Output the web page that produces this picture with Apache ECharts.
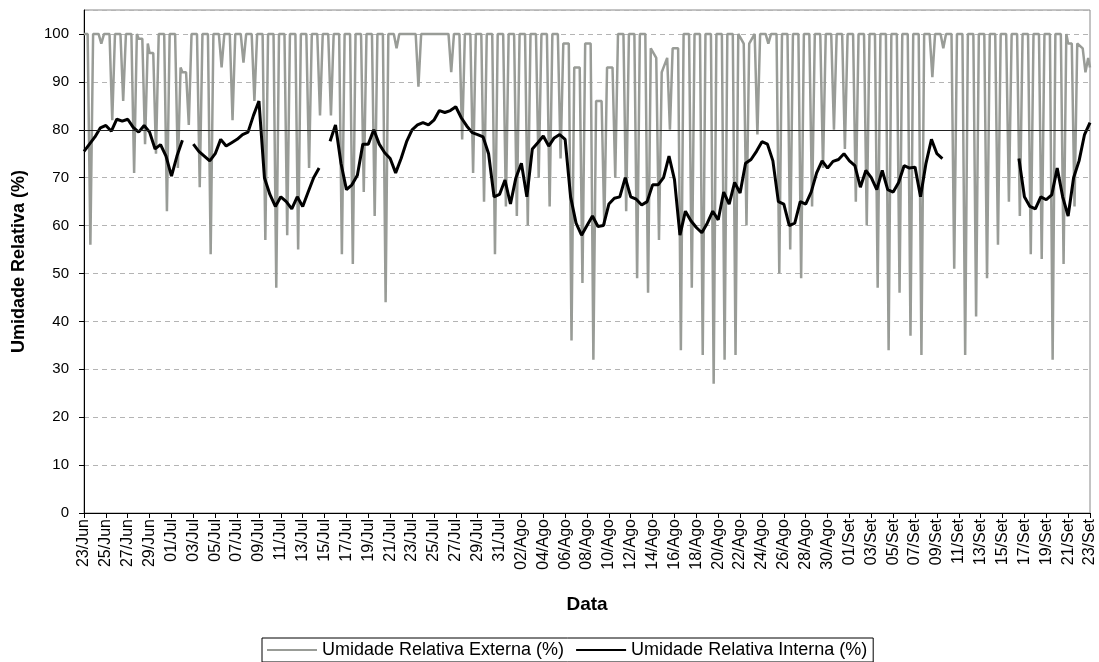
<!DOCTYPE html>
<html>
<head>
<meta charset="utf-8">
<script src="https://cdn.jsdelivr.net/npm/echarts@6/dist/echarts.min.js"></script>
<style>
  html, body { margin: 0; padding: 0; background: #ffffff; }
  #chart { width: 1099px; height: 662px; }
</style>
</head>
<body>
<div id="chart"></div>
<script>
// ---- tick labels (every 2 days, from 23/Jun to 23/Set) ----
const tickLabels = [
  '23/Jun','25/Jun','27/Jun','29/Jun','01/Jul','03/Jul','05/Jul','07/Jul','09/Jul','11/Jul',
  '13/Jul','15/Jul','17/Jul','19/Jul','21/Jul','23/Jul','25/Jul','27/Jul','29/Jul','31/Jul',
  '02/Ago','04/Ago','06/Ago','08/Ago','10/Ago','12/Ago','14/Ago','16/Ago','18/Ago','20/Ago',
  '22/Ago','24/Ago','26/Ago','28/Ago','30/Ago','01/Set','03/Set','05/Set','07/Set','09/Set',
  '11/Set','13/Set','15/Set','17/Set','19/Set','21/Set','23/Set'
];

// ---- external RH: per day, readings at the hours below (day 0 = 23/Jun) ----
const extHours = [0, 8, 14, 20];
const extDaily = [
  [100,100,56,100],[100,100,98,100],[100,100,82,100],[100,100,86,100],[100,100,71,100],
  [99,99,77,98],[96,96,75,100],[100,100,63,100],[100,100,72,93],[92,92,81,100],
  [100,100,68,100],[100,100,54,100],[100,100,93,100],[100,100,82,100],[100,100,94,100],
  [100,100,86,100],[100,100,57,100],[100,100,47,100],[100,100,58,100],[100,100,55,100],
  [100,100,72,100],[100,100,83,100],[100,100,83,100],[100,100,54,100],[100,100,52,100],
  [100,100,67,100],[100,100,62,100],[100,100,44,100],[100,100,97,100],[100,100,100,100],
  [100,100,89,100],[100,100,100,100],[100,100,100,100],[100,100,92,100],[100,100,78,100],
  [100,100,71,100],[100,100,65,100],[100,100,54,100],[100,100,64,100],[100,100,62,100],
  [100,100,60,100],[100,100,70,100],[100,100,64,100],[100,100,74,98],[98,98,36,93],
  [93,93,48,98],[98,98,32,86],[86,86,60,93],[93,93,70,100],[100,100,63,100],
  [100,100,49,100],[100,100,46,97],[97,95,57,92],[92,95,80,97],[97,97,34,100],
  [100,100,47,100],[100,100,33,100],[100,100,27,100],[100,100,32,100],[100,100,33,100],
  [100,98,60,98],[98,100,79,100],[100,100,98,100],[100,100,50,100],[100,100,55,100],
  [100,100,49,100],[100,100,64,100],[100,100,72,100],[100,100,80,100],[100,100,76,100],
  [100,100,65,100],[100,100,60,100],[100,100,47,100],[100,100,34,100],[100,100,46,100],
  [100,100,37,100],[100,100,33,100],[100,100,91,100],[100,100,97,100],[100,100,51,100],
  [100,100,33,100],[100,100,41,100],[100,100,49,100],[100,100,56,100],[100,100,65,100],
  [100,100,62,100],[100,100,54,100],[100,100,53,100],[100,100,32,100],[100,100,52,100],
  [98,98,64,98],[98,97,92,95]
];
const extLast = 93; // 23/Set 00h

// ---- internal RH: readings every 12 h from 23/Jun 00h (null = no data) ----
const intHalfDay = [
  75.5,77,78.5,80.4,80.9,79.7,82.2,81.8,82.2,80.5,
  79.5,80.9,79.5,76,76.9,74.5,70.3,74.5,77.8,null,
  77,75.5,74.5,73.5,75,78,76.6,77.3,78,79,
  79.5,83,86,70,66.5,64,66,65,63.5,66,
  64,67,70,72,null,77.6,81,73,67.5,68.5,
  70.5,77,77,80,77,75.2,74,71,74,77.5,
  80,81,81.5,81,82,84,83.6,84,84.8,82.5,
  80.8,79.4,79,78.5,75,66,66.5,69.5,64.5,70,
  73,66,76,77.3,78.7,76.6,78.3,79,78,66,
  60.5,58,60,62,59.8,60,64.5,65.7,66,70,
  66,65.5,64.3,65,68.5,68.5,70,74.5,69.6,58,
  63,61,59.6,58.5,60.5,63,61.2,67,64.5,69,
  66.8,73,73.8,75.5,77.5,77,73.5,65,64.5,60,
  60.5,65,64.5,67,71,73.5,72,73.4,73.8,75,
  73.5,72.5,68,71.5,70,67.5,71.5,67.5,67,69,
  72.5,72,72.2,66,73,78,75,74,null,null,
  null,null,null,null,null,null,null,null,null,null,
  null,74,66,64,63.5,66,65.4,66.4,72,66,
  62,70,73.5,79,81.5
];

const refLevel = 80;

const extData = [];
extDaily.forEach((row, d) => {
  row.forEach((v, k) => extData.push([d + extHours[k] / 24, v]));
});
extData.push([extDaily.length, extLast]);

const intData = intHalfDay.map((v, i) => [i / 2, v]);

const FONT = 'Liberation Sans';
const GRAY = '#999c97';
const chart = echarts.init(document.getElementById('chart'), null, { renderer: 'canvas' });
chart.setOption({
  animation: false,
  backgroundColor: '#ffffff',
  textStyle: { fontFamily: FONT },
  grid: {
    left: 84, right: 9, top: 10, bottom: 149,
    show: true, borderColor: '#888888', borderWidth: 1, backgroundColor: 'transparent'
  },
  legend: {
    bottom: 0,
    left: 262,
    icon: 'rect',
    itemWidth: 50,
    itemHeight: 2,
    itemGap: 12,
    padding: [3, 6, 3, 5],
    borderColor: '#000000',
    borderWidth: 1,
    borderRadius: 0,
    textStyle: { fontFamily: FONT, fontSize: 18, color: '#000000', padding: [0, 0, 0, 0] },
    data: ['Umidade Relativa Externa (%)', 'Umidade Relativa Interna (%)']
  },
  xAxis: {
    type: 'value',
    min: 0, max: 92, interval: 2,
    name: 'Data',
    nameLocation: 'middle',
    nameGap: 82,
    nameTextStyle: { fontFamily: FONT, fontSize: 19, fontWeight: 'bold', color: '#000000' },
    axisLine: { show: true, onZero: false, lineStyle: { color: '#000000', width: 1 } },
    axisTick: { show: true, length: 5, lineStyle: { color: '#000000' } },
    axisLabel: {
      rotate: 90, margin: 6, fontSize: 16, color: '#000000', fontFamily: FONT,
      formatter: (v) => tickLabels[Math.round(v / 2)] || ''
    },
    splitLine: { show: false }
  },
  yAxis: {
    type: 'value',
    min: 0, max: 105, interval: 10,
    name: 'Umidade Relativa (%)',
    nameLocation: 'middle',
    nameGap: 56,
    nameRotate: 90,
    nameTextStyle: { fontFamily: FONT, fontSize: 18, fontWeight: 'bold', color: '#000000' },
    axisLine: { show: true, lineStyle: { color: '#000000', width: 1 } },
    axisTick: { show: true, length: 5, lineStyle: { color: '#000000' } },
    axisLabel: {
      margin: 15, fontSize: 15, color: '#000000', fontFamily: FONT,
      showMaxLabel: false,
      formatter: (v) => (v <= 100 ? String(v) : '')
    },
    splitLine: { show: true, lineStyle: { color: '#b4b4b4', type: [5, 4], width: 1 } }
  },
  series: [
    {
      name: 'Umidade Relativa Externa (%)',
      type: 'line',
      data: extData,
      symbol: 'none',
      lineStyle: { color: GRAY, width: 2.5 },
      itemStyle: { color: GRAY },
      z: 2
    },
    {
      name: 'Umidade Relativa Interna (%)',
      type: 'line',
      data: intData,
      symbol: 'none',
      connectNulls: false,
      lineStyle: { color: '#000000', width: 3 },
      itemStyle: { color: '#000000' },
      z: 3,
      markLine: {
        silent: true,
        symbol: 'none',
        label: { show: false },
        lineStyle: { color: '#222222', width: 1.2, type: 'solid' },
        data: [{ yAxis: refLevel }]
      }
    }
  ]
});
</script>
</body>
</html>
